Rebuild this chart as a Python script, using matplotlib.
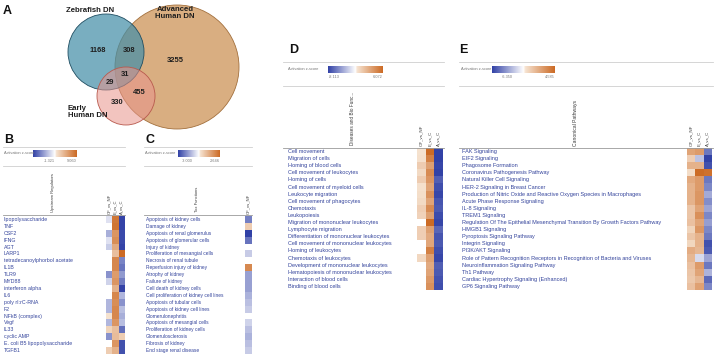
import matplotlib
matplotlib.use('Agg')
import matplotlib.pyplot as plt
import numpy as np
from matplotlib.colors import LinearSegmentedColormap, TwoSlopeNorm
from matplotlib.patches import Circle
from matplotlib.lines import Line2D
import matplotlib.transforms as mtransforms

plt.rcParams['font.family'] = ['Liberation Sans', 'DejaVu Sans']

nan = np.nan

# ---------------- data ----------------
venn_sets = ['Zebrafish DN', 'Advanced\nHuman DN', 'Early\nHuman DN']
venn_counts = [1168, 308, 3255, 31, 29, 455, 330]

comparisons = ['OF_vs_NF', 'E_vs_C', 'A_vs_C']

b_labels = ['lipopolysaccharide', 'TNF', 'CSF2', 'IFNG', 'AGT', 'LARP1',
            'tetradecanoylphorbol acetate', 'IL1B', 'TLR9', 'MYD88',
            'interferon alpha', 'IL6', 'poly rI:rC-RNA', 'F2', 'NFkB (complex)',
            'Vegf', 'IL33', 'cyclic AMP', 'E. coli B5 lipopolysaccharide', 'TGFB1']
b_of = [-0.2, nan, -0.55, -0.2, -0.35, nan, nan, nan, -0.75, -0.3,
        nan, nan, -0.5, -0.5, 0.6, -0.5, 1.6, -0.75, nan, 2.0]
b_e = [8.0, 8.3, 6.0, 6.5, 4.5, 3.0, 7.0, 7.0, 5.5, 6.0,
       4.0, 7.0, 6.5, 7.0, 7.0, 6.0, 3.0, 3.2, 6.0, 4.0]
b_a = [-1.3, -1.3, -1.25, -1.25, -1.3, 9.06, -0.85, -0.95, -0.7, -0.9,
       -1.3, -0.5, -0.75, -0.45, -0.55, -0.45, -1.0, 2.0, -1.2, -1.2]
b_range = (-1.321, 9.060)

c_labels = ['Apoptosis of kidney cells', 'Damage of kidney', 'Apoptosis of renal glomerulus',
            'Apoptosis of glomerular cells', 'Injury of kidney', 'Proliferation of mesangial cells',
            'Necrosis of renal tubule', 'Reperfusion injury of kidney', 'Atrophy of kidney',
            'Failure of kidney', 'Cell death of kidney cells',
            'Cell proliferation of kidney cell lines', 'Apoptosis of tubular cells',
            'Apoptosis of kidney cell lines', 'Glomerulonephritis', 'Apoptosis of mesangial cells',
            'Proliferation of kidney cells', 'Glomerulosclerosis', 'Fibrosis of kidney',
            'End stage renal disease']
c_of = [-2.0, 0.6, -3.0, -2.2, nan, -0.8, nan, 2.0, -1.5, -1.5,
        -1.5, -1.2, -1.0, -0.8, nan, -0.7, -1.0, -1.2, -1.0, -0.8]
c_range = (-3.000, 2.646)

d_labels = ['Cell movement', 'Migration of cells', 'Homing of blood cells',
            'Cell movement of leukocytes', 'Homing of cells', 'Cell movement of myeloid cells',
            'Leukocyte migration', 'Cell movement of phagocytes', 'Chemotaxis', 'Leukopoiesis',
            'Migration of mononuclear leukocytes', 'Lymphocyte migration',
            'Differentiation of mononuclear leukocytes', 'Cell movement of mononuclear leukocytes',
            'Homing of leukocytes', 'Chemotaxis of leukocytes',
            'Development of mononuclear leukocytes', 'Hematopoiesis of mononuclear leukocytes',
            'Interaction of blood cells', 'Binding of blood cells']
d_of = [0.4, 0.5, 1.4, 0.8, 1.4, 0.5, 0.6, 0.8, 1.3, 1.1,
        nan, 1.3, 1.3, nan, nan, 0.9, nan, nan, nan, nan]
d_e = [6.0, 5.0, 3.5, 4.5, 4.0, 3.3, 4.2, 3.3, 4.5, 3.5,
       6.0, 3.5, 3.0, 3.2, 5.0, 3.5, 3.0, 3.3, 3.8, 4.2]
d_a = [-8.0, -8.1, -7.8, -8.0, -6.8, -7.5, -7.8, -7.2, -7.0, -7.6,
       -7.8, -6.5, -7.2, -7.0, -7.5, -7.8, -6.8, -7.0, -7.3, -7.5]
d_range = (-8.113, 6.072)

e_labels = ['FAK Signaling', 'EIF2 Signaling', 'Phagosome Formation',
            'Coronavirus Pathogenesis Pathway', 'Natural Killer Cell Signaling',
            'HER-2 Signaling in Breast Cancer',
            'Production of Nitric Oxide and Reactive Oxygen Species in Macrophages',
            'Acute Phase Response Signaling', 'IL-8 Signaling', 'TREM1 Signaling',
            'Regulation Of The Epithelial Mesenchymal Transition By Growth Factors Pathway',
            'HMGB1 Signaling', 'Pyroptosis Signaling Pathway', 'Integrin Signaling',
            'PI3K/AKT Signaling',
            'Role of Pattern Recognition Receptors in Recognition of Bacteria and Viruses',
            'Neuroinflammation Signaling Pathway', 'Th1 Pathway',
            'Cardiac Hypertrophy Signaling (Enhanced)', 'GP6 Signaling Pathway']
e_of = [2.5, 1.0, 2.0, 0.5, 2.3, 2.0, 2.0, 2.0, 1.3, 1.3,
        1.5, 0.8, 1.3, 0.7, 2.2, 1.8, 1.5, 1.3, 1.2, 1.5]
e_e = [2.8, -2.0, 2.0, 4.5, 2.8, 2.8, 3.0, 3.0, 2.5, 3.2,
       2.5, 3.0, 2.0, 2.0, 1.8, -1.2, 2.8, 2.5, 1.8, 2.6]
e_a = [-4.5, -6.3, -5.8, 4.3, -4.5, -4.0, -2.8, -3.8, -3.0, -4.0,
       -3.2, -4.0, -4.5, -5.8, -5.5, -3.0, -4.5, -2.5, -5.0, -4.0]
e_range = (-6.350, 4.585)

# ---------------- helpers ----------------
W, H = 715, 355
fig = plt.figure(figsize=(W / 100, H / 100), dpi=100)


def fx(x):
    return x / W


def fy(y):
    return 1 - y / H


def add_ax(x0, y0, x1, y1):
    return fig.add_axes([fx(x0), fy(y1), (x1 - x0) / W, (y1 - y0) / H])


def hline(x0, x1, y, color='#cfcfcf', lw=0.6):
    fig.add_artist(Line2D([fx(x0), fx(x1)], [fy(y), fy(y)], transform=fig.transFigure,
                          color=color, lw=lw))


cmap = LinearSegmentedColormap.from_list(
    'ipa', [(0.0, '#3141a6'), (0.5, '#ffffff'), (0.53, '#f6e3d1'), (1.0, '#cc6a24')])
cmap.set_bad('white')

LABEL_BLUE = '#34449c'
HEAD_GRAY = '#3a3a3a'


def panel_letter(x, y, s):
    fig.text(fx(x), fy(y), s, fontsize=9, fontweight='bold', ha='left', va='center',
             color='#111111')


def colorbar(x0, x1, y0, y1, lab_x, rng, left_off):
    fig.text(fx(lab_x), fy((y0 + y1) / 2), 'Activation z-score', fontsize=2.8,
             color='#777777', ha='left', va='center')
    cax = add_ax(x0, y0, x1, y1)
    cax.imshow(np.linspace(0, 1, 256)[None, :], cmap=cmap, aspect='auto')
    cax.set_axis_off()
    fig.text(fx(x0 + left_off), fy(y1 + 4), f'{rng[0]:.3f}', fontsize=2.8, color='#777777',
             ha='left', va='center')
    fig.text(fx(x1), fy(y1 + 4), f'{rng[1]:.3f}', fontsize=2.8, color='#777777',
             ha='right', va='center')


def heatmap(x0, x1, y0, y1, cols, colnames, labels, rng, label_x, fs, col_fs):
    ax = add_ax(x0, y0, x1, y1)
    arr = np.array(cols, dtype=float).T
    norm = TwoSlopeNorm(vcenter=0, vmin=rng[0], vmax=rng[1])
    ax.imshow(np.ma.masked_invalid(arr), cmap=cmap, norm=norm, aspect='auto',
              interpolation='nearest')
    ax.set_xlim(-0.5, len(cols) - 0.5)
    ax.set_ylim(len(labels) - 0.5, -0.5)
    ax.set_axis_off()
    trans = mtransforms.blended_transform_factory(fig.transFigure, ax.transData)
    for i, lab in enumerate(labels):
        ax.text(fx(label_x), i, lab, transform=trans, fontsize=fs, color=LABEL_BLUE,
                ha='left', va='center', clip_on=False)
    for j, cn in enumerate(colnames):
        ax.text(j, -0.75, cn, rotation=90, fontsize=col_fs, color=HEAD_GRAY,
                ha='center', va='bottom', clip_on=False)
    return ax


# ---------------- Panel A: Venn ----------------
vax = add_ax(0, 0, 250, 145)
vax.set_xlim(0, 250)
vax.set_ylim(145, 0)
vax.set_axis_off()
vax.add_patch(Circle((177, 67), 62, facecolor=(0.83, 0.64, 0.44, 0.88),
                     edgecolor=(0.64, 0.44, 0.24), lw=0.6))
vax.add_patch(Circle((106, 52), 38, facecolor=(0.27, 0.56, 0.66, 0.72),
                     edgecolor=(0.12, 0.30, 0.38), lw=0.6))
vax.add_patch(Circle((126, 96), 29, facecolor=(0.91, 0.58, 0.55, 0.55),
                     edgecolor=(0.72, 0.35, 0.30), lw=0.6))
vfont = dict(fontsize=5.6, fontweight='bold', color='#1e1e1e')
vax.text(90, 10, venn_sets[0], ha='center', va='center', **vfont)
vax.text(175, 13, venn_sets[1], ha='center', va='center', linespacing=1.05, **vfont)
vax.text(68, 112, venn_sets[2], ha='left', va='center', linespacing=1.05, **vfont)
count_pos = [(98, 50), (129, 51), (175, 61), (125, 74), (110, 82), (139, 92), (117, 103)]
for (px, py), c in zip(count_pos, venn_counts):
    vax.text(px, py, str(c), ha='center', va='center', fontsize=5.4, fontweight='bold',
             color='#1e1e1e')
panel_letter(3, 11, 'A')

# ---------------- Panel B ----------------
panel_letter(4, 140, 'B')
hline(3, 125, 147)
hline(3, 125, 166)
colorbar(33, 77, 150, 157, 4, b_range, 11)
fig.text(fx(53), fy(212), 'Upstream Regulators', rotation=90, fontsize=3.0,
         color=HEAD_GRAY, ha='center', va='bottom')
hline(3, 125, 214.5, color='#9a9a9a', lw=0.6)
heatmap(106, 124.5, 216, 354, [b_of, b_e, b_a], comparisons, b_labels, b_range,
        4, 3.8, 3.0)

# ---------------- Panel C ----------------
panel_letter(145, 140, 'C')
hline(144, 252, 147)
hline(144, 252, 166)
colorbar(178, 220, 150, 157, 145, c_range, 4)
fig.text(fx(197), fy(212), 'Tox Functions', rotation=90, fontsize=3.0,
         color=HEAD_GRAY, ha='center', va='bottom')
hline(144, 252, 214.5, color='#9a9a9a', lw=0.6)
heatmap(245, 251.2, 216, 354, [c_of], comparisons[:1], c_labels, c_range,
        146, 3.5, 3.0)

# ---------------- Panel D ----------------
panel_letter(289, 50, 'D')
hline(283, 444, 62)
hline(283, 444, 86)
colorbar(328, 382, 66, 73, 288, d_range, 1)
fig.text(fx(352), fy(145), 'Diseases and Bio Func...', rotation=90, fontsize=3.4,
         color=HEAD_GRAY, ha='center', va='bottom')
hline(283, 444, 147.5, color='#9a9a9a', lw=0.6)
heatmap(417, 443, 148, 290, [d_of, d_e, d_a], comparisons, d_labels, d_range,
        288, 4.0, 3.2)

# ---------------- Panel E ----------------
panel_letter(459, 50, 'E')
hline(459, 713, 62)
hline(459, 713, 86)
colorbar(492, 555, 66, 73, 461, e_range, 10)
fig.text(fx(575), fy(146), 'Canonical Pathways', rotation=90, fontsize=3.6,
         color=HEAD_GRAY, ha='center', va='bottom')
hline(459, 713, 147.5, color='#9a9a9a', lw=0.6)
heatmap(687, 712, 148, 290, [e_of, e_e, e_a], comparisons, e_labels, e_range,
        462, 4.0, 3.2)

fig.savefig('out.png', dpi=100, facecolor='white')
